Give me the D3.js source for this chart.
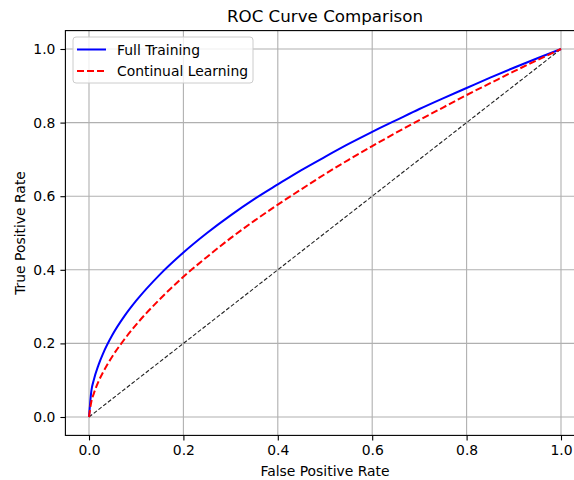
<!DOCTYPE html>
<html>
<head>
<meta charset="utf-8">
<script src="https://cdn.jsdelivr.net/npm/d3@7"></script>
<style>
  body { margin: 0; background: #fff; }
  text { font-family: "DejaVu Sans", sans-serif; fill: #000; }
</style>
</head>
<body>
<div id="plotDiv"></div>
<script>
// --- data ---
const fpr_full = [0, 0.005, 0.01, 0.02, 0.03, 0.05, 0.075, 0.1, 0.15, 0.2, 0.25, 0.3, 0.35, 0.4, 0.45, 0.5, 0.55, 0.6, 0.65, 0.7, 0.75, 0.8, 0.85, 0.9, 0.95, 1.0];
const tpr_full = [0, 0.071, 0.1, 0.141, 0.173, 0.224, 0.274, 0.316, 0.387, 0.447, 0.5, 0.548, 0.592, 0.632, 0.671, 0.707, 0.742, 0.775, 0.806, 0.837, 0.866, 0.894, 0.922, 0.949, 0.975, 1.0];
const fpr_cl = [0, 0.005, 0.01, 0.02, 0.03, 0.05, 0.075, 0.1, 0.15, 0.2, 0.25, 0.3, 0.35, 0.4, 0.45, 0.5, 0.55, 0.6, 0.65, 0.7, 0.75, 0.8, 0.85, 0.9, 0.95, 1.0];
const tpr_cl = [0, 0.042, 0.063, 0.096, 0.122, 0.166, 0.211, 0.251, 0.32, 0.381, 0.435, 0.486, 0.533, 0.577, 0.619, 0.66, 0.699, 0.736, 0.772, 0.807, 0.841, 0.875, 0.907, 0.939, 0.97, 1.0];
const diag_x = [0, 1];
const diag_y = [0, 1];
const tick_vals = [0, 0.2, 0.4, 0.6, 0.8, 1.0];
const series_names = ["Full Training", "Continual Learning"];

const W = 574, H = 480;
const margin = {top: 30.6, right: -10.6, bottom: 44.6, left: 65.4};
const width = W - margin.left - margin.right;
const height = H - margin.top - margin.bottom;

const svg_container = d3.select("#plotDiv").append("svg")
    .attr("width", W).attr("height", H);

const svg = svg_container.append("g")
    .attr("transform", `translate(${margin.left},${margin.top})`);

// --- scales ---
const xScale = d3.scaleLinear().domain([-0.05, 1.05]).range([0, width]);
const yScale = d3.scaleLinear().domain([-0.05, 1.05]).range([height, 0]);

// --- grid ---
svg.append("g").selectAll("line").data(tick_vals).enter().append("line")
    .attr("x1", d => xScale(d)).attr("x2", d => xScale(d))
    .attr("y1", 0).attr("y2", height)
    .attr("stroke", "#b0b0b0").attr("stroke-width", 1.1);
svg.append("g").selectAll("line").data(tick_vals).enter().append("line")
    .attr("y1", d => yScale(d)).attr("y2", d => yScale(d))
    .attr("x1", 0).attr("x2", width)
    .attr("stroke", "#b0b0b0").attr("stroke-width", 1.1);

// --- axes ---
const xAxis = d3.axisBottom(xScale).tickValues(tick_vals).tickFormat(d3.format(".1f")).tickSize(5).tickPadding(5);
const yAxis = d3.axisLeft(yScale).tickValues(tick_vals).tickFormat(d3.format(".1f")).tickSize(5).tickPadding(5);

const gx = svg.append("g").attr("transform", `translate(0,${height})`).call(xAxis);
const gy = svg.append("g").call(yAxis);
[gx, gy].forEach(g => {
    g.select(".domain").remove();
    g.selectAll("text").style("font-size", "13.9px").style("font-family", "DejaVu Sans").attr("fill", "#000");
    g.selectAll("line").attr("stroke", "#000").attr("stroke-width", 1.1);
});

// frame
svg.append("rect").attr("x", 0).attr("y", 0).attr("width", width).attr("height", height)
    .attr("fill", "none").attr("stroke", "#000").attr("stroke-width", 1.1);

// --- lines ---
const line = d3.line().x(d => xScale(d[0])).y(d => yScale(d[1]));

svg.append("path").datum(d3.zip(diag_x, diag_y))
    .attr("d", line).attr("fill", "none")
    .attr("stroke", "#222").attr("stroke-width", 1.1).attr("stroke-dasharray", "4,2");

svg.append("path").datum(d3.zip(fpr_full, tpr_full))
    .attr("d", line.curve(d3.curveMonotoneX)).attr("fill", "none")
    .attr("stroke", "#0000ff").attr("stroke-width", 2);

svg.append("path").datum(d3.zip(fpr_cl, tpr_cl))
    .attr("d", line.curve(d3.curveMonotoneX)).attr("fill", "none")
    .attr("stroke", "#ff0000").attr("stroke-width", 2).attr("stroke-dasharray", "7,3");

// --- legend ---
const legend = svg_container.append("g").attr("transform", "translate(73,37)");
legend.append("rect").attr("width", 180).attr("height", 46).attr("rx", 3)
    .attr("fill", "#fff").attr("fill-opacity", 0.8).attr("stroke", "#ccc");
const styles = [{c: "#0000ff", dash: null}, {c: "#ff0000", dash: "7,3"}];
series_names.forEach((name, i) => {
    const y = 12.5 + i * 21.5;
    legend.append("line").attr("x1", 4).attr("x2", 33).attr("y1", y).attr("y2", y)
        .attr("stroke", styles[i].c).attr("stroke-width", 2)
        .attr("stroke-dasharray", styles[i].dash);
    legend.append("text").attr("x", 44).attr("y", y + 5)
        .style("font-size", "13.9px").text(name);
});

// --- labels ---
svg_container.append("text").attr("x", 325).attr("y", 22)
    .attr("text-anchor", "middle").style("font-size", "16.7px").text("ROC Curve Comparison");
svg_container.append("text").attr("x", 325).attr("y", 476)
    .attr("text-anchor", "middle").style("font-size", "13.9px").text("False Positive Rate");
svg_container.append("text")
    .attr("transform", `translate(25,${(30.6 + 435.4) / 2}) rotate(-90)`)
    .attr("text-anchor", "middle").style("font-size", "13.9px").text("True Positive Rate");
</script>
</body>
</html>
